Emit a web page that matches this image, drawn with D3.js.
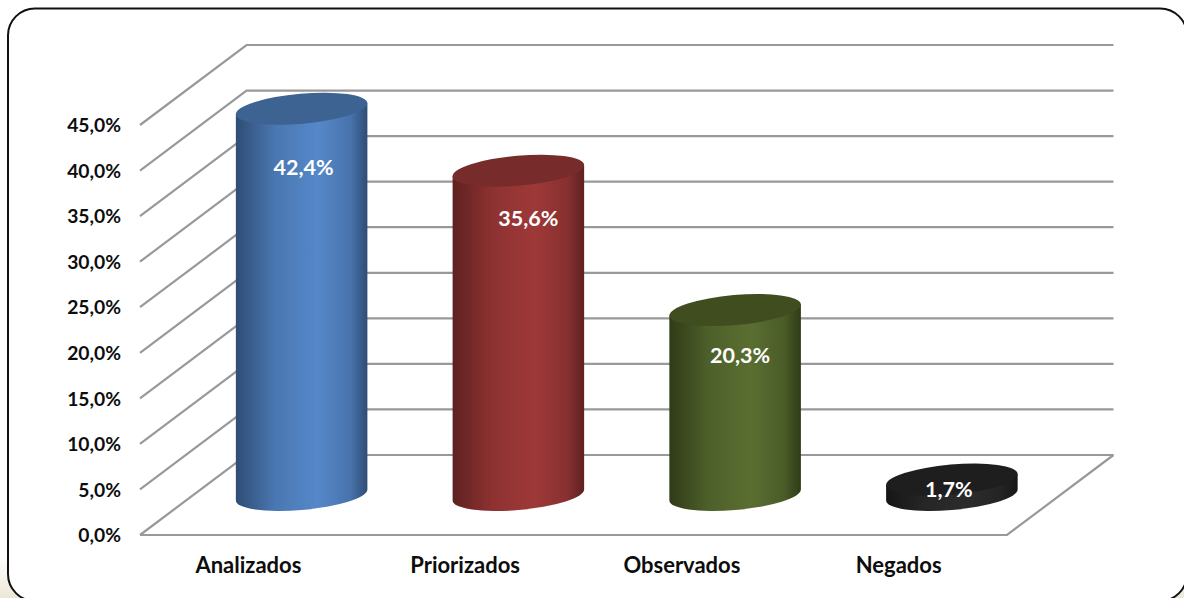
<!DOCTYPE html>
<html><head><meta charset="utf-8">
<style>html,body{margin:0;padding:0;background:#fff;overflow:hidden}svg{display:block}text{font-family:Lato,"Open Sans",sans-serif;font-weight:700}</style>
<script src="https://cdn.jsdelivr.net/npm/d3@7"></script>
</head><body><svg id="c" width="1184" height="598"></svg>
<script>
const categories = ["Analizados","Priorizados","Observados","Negados"];
const values = [42.4,35.6,20.3,1.7];
const tickValues = [0,5,10,15,20,25,30,35,40,45];
const sideColors = [["#2f4d75","#5588c9"],["#5e2120","#9f3838"],["#2f3b17","#5a6e31"],["#161616","#2c2c2c"]];
const topColors = ["#3c6391","#772c2b","#3f4d1f","#1e1e1e"];

const svg = d3.select("#c");
const defs = svg.append("defs");
const depthX = 106.5, depthY = -80;
const x = d3.scaleBand().domain(categories).range([140,1007]);
const y = d3.scaleLinear().domain([0,45]).range([535,125]);
const fmt = d3.formatLocale({decimal:",",thousands:".",grouping:[3],currency:["",""]});
const pct = fmt.format(".1f");

// page backdrop and frame
const bg = defs.append("linearGradient").attr("id","bg").attr("x1",0).attr("x2",0).attr("y1",0).attr("y2",1);
bg.append("stop").attr("offset","0.93").attr("stop-color","#fff");
bg.append("stop").attr("offset","1").attr("stop-color","#ede7d6");
svg.append("rect").attr("width",1184).attr("height",598).attr("fill","url(#bg)");
svg.append("rect").attr("x",8).attr("y",8.5).attr("width",1179).attr("height",592.5).attr("rx",27)
  .attr("fill","#fff").attr("stroke","#111").attr("stroke-width",2);

// walls
const gridColor = "#999999";
const grid = svg.append("g").attr("fill","none").attr("stroke",gridColor).attr("stroke-width",2.2);
grid.selectAll("path.g").data(tickValues).join("path").attr("class","g")
  .attr("d",v=>d3.line()([[x.range()[0],y(v)],[x.range()[0]+depthX,y(v)+depthY],[x.range()[1]+depthX,y(v)+depthY]]));
grid.append("path").attr("d",d3.line()([[x.range()[0],y(0)],[x.range()[1],y(0)],[x.range()[1]+depthX,y(0)+depthY]]));

// axes (labels only)
const yAxis = svg.append("g").attr("transform","translate(127,0.5)")
  .call(d3.axisLeft(y).tickValues(tickValues).tickSize(0).tickPadding(6).tickFormat(v=>pct(v)+"%"));
yAxis.select(".domain").remove();
yAxis.selectAll("text").attr("font-size",19.3).attr("fill","#0d0d0d");
const xAxis = svg.append("g").attr("transform","translate(0,"+y(0)+")")
  .call(d3.axisBottom(x).tickSize(0).tickPadding(22));
xAxis.select(".domain").remove();
xAxis.selectAll("text").attr("font-size",22).attr("fill","#0d0d0d");

// cylinders
const a = 66, b = 15, theta = -5*Math.PI/180;
const xExt = Math.sqrt(a*a*Math.cos(theta)**2 + b*b*Math.sin(theta)**2);
const tangentDy = (a*a-b*b)*Math.sin(theta)*Math.cos(theta)/xExt;
const labelShift = [[2,59],[10,48],[5,45],[-3,9.5]];
const bars = svg.append("g").selectAll("g").data(values).join("g");
bars.each(function(v,i){
  const g = d3.select(this);
  const cx = x(categories[i]) + x.bandwidth()/2 + depthX/2;
  const base = y(0) + depthY/2, top = y(v) + depthY/2;
  const gid = "side"+i;
  const grad = defs.append("linearGradient").attr("id",gid);
  [[0,sideColors[i][0]],[0.3,d3.interpolateRgb(sideColors[i][0],sideColors[i][1])(0.72)],[0.62,sideColors[i][1]],
   [0.87,d3.interpolateRgb(sideColors[i][0],sideColors[i][1])(0.65)],[1,sideColors[i][0]]]
    .forEach(s=>grad.append("stop").attr("offset",s[0]).attr("stop-color",s[1]));
  const rot = theta*180/Math.PI;
  g.append("path").attr("fill","url(#"+gid+")").attr("d",
    `M${cx-xExt},${top-tangentDy}L${cx-xExt},${base-tangentDy}`+
    `A${a},${b},${rot},0,0,${cx+xExt},${base+tangentDy}`+
    `L${cx+xExt},${top+tangentDy}Z`);
  g.append("ellipse").attr("cx",cx).attr("cy",top).attr("rx",a).attr("ry",b)
    .attr("transform",`rotate(${rot} ${cx} ${top})`).attr("fill",topColors[i]);
  g.append("text").attr("x",cx+labelShift[i][0]).attr("y",top+labelShift[i][1]).attr("dy","0.35em")
    .attr("text-anchor","middle").attr("font-size",21.5).attr("fill","#fff").text(pct(v)+"%");
});
</script></body></html>
